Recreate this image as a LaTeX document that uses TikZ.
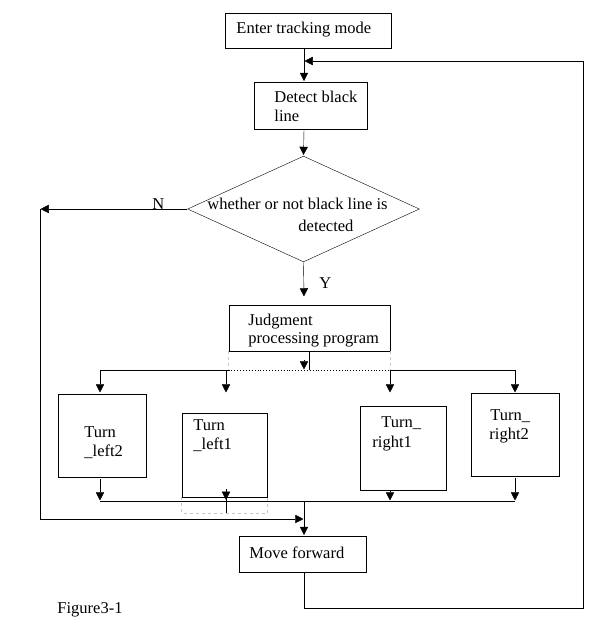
\documentclass[tikz,border=0pt]{standalone}
\usepackage{fontspec}
\setmainfont{Liberation Serif}
\usetikzlibrary{arrows.meta,shapes.geometric}
\begin{document}
\begin{tikzpicture}[x=1pt,y=-1pt,
  every node/.style={font=\fontsize{16.5}{19}\selectfont},
  box/.style={draw, line width=0.9pt, inner sep=0pt},
  txt/.style={anchor=base west, inner sep=0pt},
  arr/.style={-{Triangle[length=9pt,width=9pt]}},
  ghost/.style={draw=gray!45, dashed, line width=0.6pt}]
\useasboundingbox[fill=white] (0,0) rectangle (610,641);
\tikzset{line width=0.9pt}
% spine
\coordinate (sp) at (304,0);
\coordinate (hl) at (0,370);
\coordinate (bot) at (0,501);
\coordinate (tipy) at (0,393);
% boxes
\node[box, minimum width=166pt, minimum height=35pt] (enter) at (308,30.5) {};
\node[box, minimum width=113pt, minimum height=47pt] (detect) at (310.5,105.5) {};
\node[draw, diamond, inner sep=0pt, minimum width=232pt, minimum height=106pt] (dia) at (303.5,209) {};
\node[box, minimum width=161pt, minimum height=46pt] (judge) at (309.5,328) {};
\node[box, minimum width=88pt, minimum height=83pt] (tl2) at (102,435.5) {};
\node[box, minimum width=85pt, minimum height=84pt] (tl1) at (224.5,455) {};
\node[box, minimum width=86pt, minimum height=84pt] (tr1) at (403,448) {};
\node[box, minimum width=88pt, minimum height=83pt] (tr2) at (515,434.5) {};
\node[box, minimum width=127pt, minimum height=36pt] (move) at (303,554) {};
% texts
\node[txt] (t1) at (236,33) {Enter tracking mode};
\node[txt] (t2) at (274,102) {Detect black};
\node[txt] (t3) at (274,121) {line};
\node[txt] (t4) at (207,209) {whether or not black line is};
\node[txt] (t5) at (298,231) {detected};
\node[txt] (tn) at (152,209) {N};
\node[txt] (ty) at (319,288) {Y};
\node[txt] (t6) at (248,325) {Judgment};
\node[txt] (t7) at (248,343) {processing program};
\node[txt] (t8) at (84,437) {Turn};
\node[txt] (t9) at (84,456) {\_left2};
\node[txt] (t10) at (193,430) {Turn};
\node[txt] (t11) at (193,449) {\_left1};
\node[txt] (t12) at (381,427) {Turn\_};
\node[txt] (t13) at (372,447) {right1};
\node[txt] (t14) at (490,420) {Turn\_};
\node[txt] (t15) at (489,439) {right2};
\node[txt] (t16) at (249,558) {Move forward};
\node[txt] (t17) at (57,613) {Figure3-1};
% named coordinates
\coordinate (nl) at (40,209);
\coordinate (ytip) at (304,297);
\coordinate (jl) at (304,519);
\coordinate (bl2) at (100,370);
\coordinate (bl1) at (226,370);
\coordinate (br1) at (390,370);
\coordinate (br2) at (515,370);
\coordinate (lc) at (309,370);
\coordinate (lpd) at (304,608);
\coordinate (lpr) at (583,608);
\coordinate (lpu) at (583,61);
\coordinate (lpe) at (304,61);
% connectors top
\draw[arr] (enter.south -| sp) -- (detect.north -| sp);
\draw[arr] (detect.south -| sp) -- (dia.north);
\draw[arr] (dia.west) -- (nl);
\draw[arr] (nl) |- (jl);
\draw[arr] (dia.south) -- (ytip);
% judgment split
\draw[ghost] (judge.south west) -- (judge.south west |- hl);
\draw[ghost] (judge.south east) -- (judge.south east |- hl);
\draw[dotted, line width=0.9pt] (judge.south west |- hl) -- (judge.south east |- hl);
\draw (judge.south -| lc) -- (lc);
\draw[arr] ([yshift=10pt]sp |- hl) -- (sp |- hl);
\draw (bl2) -- (judge.south west |- hl);
\draw (judge.south east |- hl) -- (br2);
\draw[arr] (bl2) -- (bl2 |- tipy);
\draw[arr] (bl1) -- (bl1 |- tipy);
\draw[arr] (br1) -- (br1 |- tipy);
\draw[arr] (br2) -- (br2 |- tipy);
% bottom merge
\draw[ghost] (tl1.south west) -- ++(0,16) -- ([yshift=-16pt]tl1.south east) -- (tl1.south east);
\draw[arr] ([yshift=-2pt]bl2 |- tl2.south) -- (bl2 |- bot);
\draw (bl1 |- tl1.south) -- ([yshift=-16pt]bl1 |- tl1.south);
\draw[arr] ([yshift=8pt]bl1 |- tl1.south) -- ([yshift=-3pt]bl1 |- tl1.south);
\draw[arr] (br1 |- tr1.south) -- (br1 |- bot);
\draw[arr] ([yshift=-2pt]br2 |- tr2.south) -- (br2 |- bot);
\draw (bl2 |- bot) -- (br2 |- bot);
\draw[arr] (sp |- bot) -- (move.north -| sp);
% loop
\draw[arr] (move.south -| sp) -- (lpd) -- (lpr) -- (lpu) -- (lpe);
\end{tikzpicture}
\end{document}
